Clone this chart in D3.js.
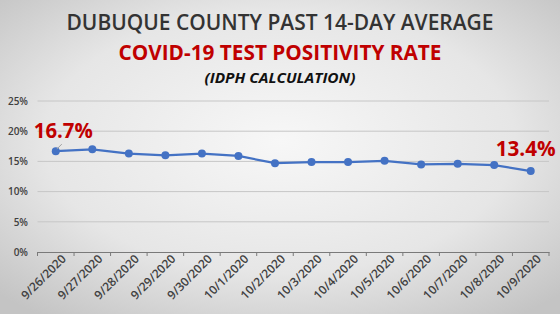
<!DOCTYPE html>
<html>
<head>
<meta charset="utf-8">
<script src="https://cdn.jsdelivr.net/npm/d3@7"></script>
<style>
  body { margin: 0; }
  svg { display: block; }
</style>
</head>
<body>
<div id="chart"></div>
<script>
// data
var dates = ["9/26/2020", "9/27/2020", "9/28/2020", "9/29/2020", "9/30/2020", "10/1/2020", "10/2/2020",
             "10/3/2020", "10/4/2020", "10/5/2020", "10/6/2020", "10/7/2020", "10/8/2020", "10/9/2020"];
var rates = [16.7, 17.0, 16.3, 16.0, 16.3, 15.9, 14.7, 14.9, 14.9, 15.1, 14.5, 14.6, 14.4, 13.4];
var yTicks = [0, 5, 10, 15, 20, 25];

const width = 560, height = 314;
const font = "'Open Sans', 'DejaVu Sans', sans-serif";

const svg = d3.select("#chart").append("svg")
  .attr("width", width)
  .attr("height", height);

// background: light centre, darker edges
const defs = svg.append("defs");
const grad = defs.append("radialGradient").attr("id", "bg")
  .attr("cx", "50%").attr("cy", "45%").attr("r", "70%");
grad.append("stop").attr("offset", "0%").attr("stop-color", "#f7f7f7");
grad.append("stop").attr("offset", "60%").attr("stop-color", "#e6e6e6");
grad.append("stop").attr("offset", "100%").attr("stop-color", "#c4c4c4");
svg.append("rect").attr("width", width).attr("height", height).attr("fill", "url(#bg)");

// titles (squeezed to the width of the original narrower face)
const titles = [
  {t: "DUBUQUE COUNTY PAST 14-DAY AVERAGE", y: 30, size: 21, w: 427, weight: 600, fill: "#333", style: "normal"},
  {t: "COVID-19 TEST POSITIVITY RATE", y: 60, size: 21, w: 323, weight: 700, fill: "#c00000", style: "normal"},
  {t: "(IDPH CALCULATION)", y: 83, size: 15, w: 151, weight: 700, fill: "#111", style: "italic"}
];
svg.append("g").selectAll("text")
  .data(titles)
  .join("text")
  .attr("x", 280).attr("y", d => d.y)
  .attr("text-anchor", "middle")
  .attr("font-family", font)
  .attr("font-size", d => d.size)
  .attr("font-weight", d => d.weight)
  .attr("font-style", d => d.style)
  .attr("fill", d => d.fill)
  .attr("textLength", d => d.w)
  .attr("lengthAdjust", "spacingAndGlyphs")
  .text(d => d.t);

const x = d3.scaleBand().domain(dates).range([37.5, 549]);
const y = d3.scaleLinear().domain([0, 25]).range([252, 101]);

// gridlines
svg.append("g").selectAll("line")
  .data(yTicks.filter(d => d > 0))
  .join("line")
  .attr("x1", 37.5).attr("x2", 549)
  .attr("y1", d => y(d)).attr("y2", d => y(d))
  .attr("stroke", "#c6c6c6").attr("stroke-width", 1);

// y axis labels
const yAxis = svg.append("g")
  .attr("transform", "translate(28,0)")
  .call(d3.axisLeft(y).tickValues(yTicks).tickFormat(d => d + "%").tickSize(0).tickPadding(0));
yAxis.select(".domain").remove();
yAxis.selectAll("text").attr("font-family", font).attr("font-size", 10)
  .attr("font-weight", 600).attr("fill", "#404040");

// x axis
const xAxis = svg.append("g")
  .attr("transform", "translate(0," + y(0) + ")")
  .call(d3.axisBottom(x).tickSizeOuter(0).tickSizeInner(0).tickPadding(6));
xAxis.select(".domain").attr("stroke", "#7a7a7a");
xAxis.selectAll("text")
  .attr("font-family", font).attr("font-size", 12).attr("font-weight", 600).attr("fill", "#404040")
  .attr("text-anchor", "end")
  .attr("dx", "0.2em").attr("dy", "0.6em")
  .attr("transform", "rotate(-45)");
// tick marks at band boundaries
xAxis.selectAll(".bound")
  .data(dates.map(d => x(d)).concat([x.range()[1]]))
  .join("line").attr("class", "bound")
  .attr("x1", d => d).attr("x2", d => d)
  .attr("y1", 0).attr("y2", 4)
  .attr("stroke", "#7a7a7a");

const cx = d => x(d) + x.bandwidth() / 2;

// line
svg.append("path")
  .datum(rates)
  .attr("fill", "none")
  .attr("stroke", "#4472c4")
  .attr("stroke-width", 2.25)
  .attr("d", d3.line().x((d, i) => cx(dates[i])).y(d => y(d)));

svg.append("g").selectAll("circle")
  .data(rates)
  .join("circle")
  .attr("cx", (d, i) => cx(dates[i]))
  .attr("cy", d => y(d))
  .attr("r", 4)
  .attr("fill", "#4472c4");

// data labels for first and last
const first = 0, last = rates.length - 1;
svg.append("line")
  .attr("x1", cx(dates[first]) + 1).attr("y1", y(rates[first]) - 2)
  .attr("x2", cx(dates[first]) + 6).attr("y2", y(rates[first]) - 7)
  .attr("stroke", "#a0a0a0").attr("stroke-width", 1);
svg.append("text")
  .attr("x", cx(dates[first]) - 22).attr("y", y(rates[first]) - 13)
  .attr("font-family", font).attr("font-size", 21).attr("font-weight", 700)
  .attr("fill", "#c00000")
  .attr("textLength", 59).attr("lengthAdjust", "spacingAndGlyphs")
  .text(rates[first].toFixed(1) + "%");
svg.append("text")
  .attr("x", cx(dates[last]) + 25).attr("y", y(rates[last]) - 15)
  .attr("text-anchor", "end")
  .attr("font-family", font).attr("font-size", 21).attr("font-weight", 700)
  .attr("fill", "#c00000")
  .attr("textLength", 60).attr("lengthAdjust", "spacingAndGlyphs")
  .text(rates[last].toFixed(1) + "%");
</script>
</body>
</html>
